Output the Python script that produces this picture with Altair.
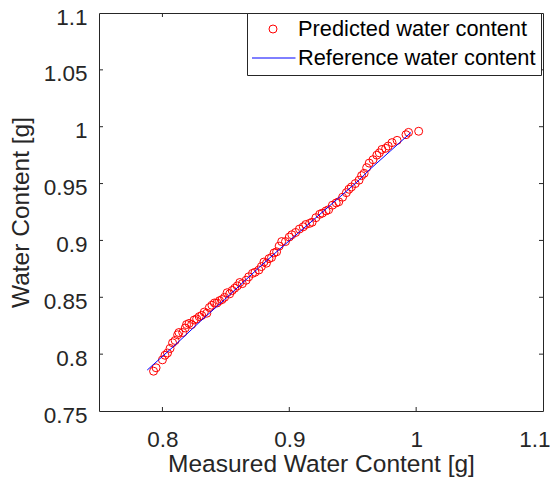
import altair as alt
import pandas as pd

# Measured vs predicted water content [g]
measured = [0.793, 0.795, 0.800, 0.802, 0.804, 0.806, 0.808, 0.810, 0.812, 0.813,
            0.816, 0.818, 0.819, 0.821, 0.823, 0.825, 0.827, 0.829, 0.831, 0.833,
            0.835, 0.837, 0.839, 0.841, 0.843, 0.845, 0.847, 0.849, 0.851, 0.853,
            0.855, 0.857, 0.859, 0.861, 0.863, 0.866, 0.868, 0.871, 0.873, 0.876,
            0.878, 0.880, 0.882, 0.884, 0.886, 0.888, 0.890, 0.892, 0.894, 0.897,
            0.900, 0.902, 0.905, 0.908, 0.911, 0.913, 0.916, 0.918, 0.921, 0.924,
            0.926, 0.929, 0.931, 0.934, 0.937, 0.939, 0.942, 0.945, 0.947, 0.949,
            0.952, 0.955, 0.957, 0.959, 0.961, 0.963, 0.966, 0.969, 0.971, 0.973,
            0.976, 0.978, 0.981, 0.985, 0.992, 0.994, 1.002]
predicted = [0.785, 0.788, 0.795, 0.799, 0.801, 0.805, 0.810, 0.812, 0.817, 0.819,
             0.819, 0.823, 0.826, 0.827, 0.826, 0.830, 0.831, 0.833, 0.834, 0.837,
             0.836, 0.841, 0.843, 0.845, 0.845, 0.847, 0.848, 0.850, 0.854, 0.853,
             0.856, 0.858, 0.860, 0.863, 0.862, 0.865, 0.868, 0.871, 0.872, 0.874,
             0.877, 0.881, 0.880, 0.884, 0.885, 0.889, 0.890, 0.895, 0.899, 0.899,
             0.903, 0.905, 0.907, 0.910, 0.912, 0.914, 0.915, 0.916, 0.920, 0.923,
             0.924, 0.926, 0.927, 0.931, 0.933, 0.934, 0.938, 0.942, 0.945, 0.947,
             0.950, 0.953, 0.957, 0.959, 0.964, 0.968, 0.971, 0.975, 0.977, 0.980,
             0.981, 0.983, 0.986, 0.988, 0.993, 0.995, 0.996]

ref_measured = [0.788, 0.810, 0.830, 0.849, 0.876, 0.892, 0.920, 0.955, 0.963, 0.980, 0.996]
ref_values = [0.786, 0.808, 0.829, 0.848, 0.876, 0.892, 0.919, 0.953, 0.962, 0.979, 0.995]

series = ["Predicted water content", "Reference water content"]
x_ticks = [0.8, 0.9, 1.0, 1.1]
y_ticks = [0.75, 0.8, 0.85, 0.9, 0.95, 1.0, 1.05, 1.1]
x_inner_ticks = [0.8, 0.9, 1.0]
y_inner_ticks = [0.8, 0.85, 0.9, 0.95, 1.0, 1.05]

pts = pd.DataFrame({"m": measured, "p": predicted, "series": series[0]})
ref = pd.DataFrame({"m": ref_measured, "r": ref_values, "series": series[1]})
xt = pd.DataFrame({"v": x_inner_ticks})
yt = pd.DataFrame({"v": y_inner_ticks})

FONT = "Liberation Sans"
AX = "#262626"
W, H = 444, 398

xscale = alt.Scale(domain=[0.75, 1.1], nice=False, zero=False)
yscale = alt.Scale(domain=[0.75, 1.1], nice=False, zero=False)

xaxis = alt.Axis(values=x_ticks, format=".3~g", title="Measured Water Content [g]",
                 grid=False, domain=False, ticks=False, labelFont=FONT, labelFontSize=22.5,
                 labelColor=AX, labelPadding=17, titleFont=FONT, titleFontSize=24.5,
                 titleColor=AX, titleFontWeight="normal", titlePadding=2,
                 labelFlush=True, labelFlushOffset=7, labelOverlap=False)
yaxis = alt.Axis(values=y_ticks, format=".3~g", title="Water Content [g]",
                 grid=False, domain=False, ticks=False, labelFont=FONT, labelFontSize=22.5,
                 labelColor=AX, labelPadding=12, labelOffset=4, titleFont=FONT,
                 titleFontSize=24.5, titleColor=AX, titleFontWeight="normal",
                 titlePadding=10, labelFlush=False, labelOverlap=False)

leg = alt.Legend(title=None, orient="none", legendX=148, legendY=0, padding=5,
                 rowPadding=6, labelOffset=2, symbolOffset=-2, clipHeight=22,
                 symbolStrokeWidth=1, labelFont=FONT, labelFontSize=21.8,
                 labelColor="#000000", strokeColor=AX, fillColor="white",
                 labelLimit=400, cornerRadius=0)

cscale = alt.Scale(domain=series, range=["#FF0000", "#0000FF"])
shscale = alt.Scale(domain=series, range=["circle", "stroke"])
szscale = alt.Scale(type="ordinal", domain=series, range=[64, 2025])

points = alt.Chart(pts).mark_point(filled=False, strokeWidth=1, opacity=1).encode(
    x=alt.X("m:Q", scale=xscale, axis=xaxis),
    y=alt.Y("p:Q", scale=yscale, axis=yaxis),
    color=alt.Color("series:N", scale=cscale, legend=leg),
    shape=alt.Shape("series:N", scale=shscale, legend=leg),
    size=alt.Size("series:N", scale=szscale, legend=leg),
)

line = alt.Chart(ref).mark_line(strokeWidth=1).encode(
    x=alt.X("m:Q", scale=xscale, axis=xaxis),
    y=alt.Y("r:Q", scale=yscale, axis=yaxis),
    color=alt.Color("series:N", scale=cscale, legend=leg),
)

bt = alt.Chart(xt).mark_rule(color=AX, strokeWidth=1).encode(
    x=alt.X("v:Q", scale=xscale, axis=xaxis), y=alt.value(H), y2=alt.value(H - 4))
tt = alt.Chart(xt).mark_rule(color=AX, strokeWidth=1).encode(
    x=alt.X("v:Q", scale=xscale, axis=xaxis), y=alt.value(0), y2=alt.value(4))
lt = alt.Chart(yt).mark_rule(color=AX, strokeWidth=1).encode(
    y=alt.Y("v:Q", scale=yscale, axis=yaxis), x=alt.value(0), x2=alt.value(4))
rt = alt.Chart(yt).mark_rule(color=AX, strokeWidth=1).encode(
    y=alt.Y("v:Q", scale=yscale, axis=yaxis), x=alt.value(W), x2=alt.value(W - 4))

chart = alt.layer(points, line, bt, tt, lt, rt).properties(
    width=W, height=H,
    autosize=alt.AutoSizeParams(type="none"),
    padding={"left": 91, "top": 5, "right": 7, "bottom": 68},
    background="white",
).configure_view(stroke=AX, strokeWidth=1)

chart.save("out.html", embed_options={"renderer": "svg", "actions": False})
